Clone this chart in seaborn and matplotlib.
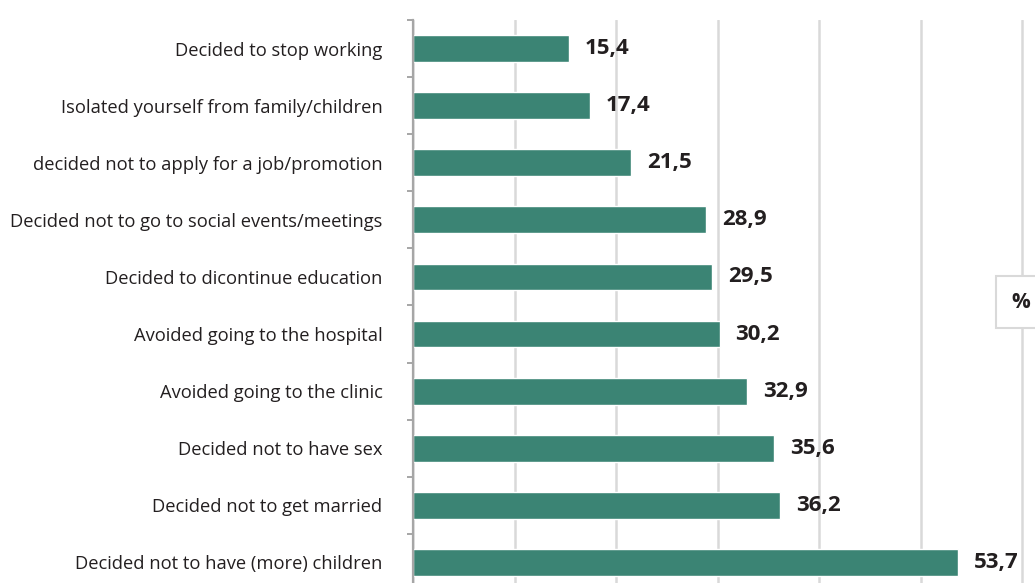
import numpy as np
import pandas as pd
import matplotlib
matplotlib.use("Agg")
import matplotlib.pyplot as plt
import seaborn as sns

# ── data ──────────────────────────────────────────────────────────────────────
categories = [
    "Decided to stop working",
    "Isolated yourself from family/children",
    "decided not to apply for a job/promotion",
    "Decided not to go to social events/meetings",
    "Decided to dicontinue education",
    "Avoided going to the hospital",
    "Avoided going to the clinic",
    "Decided not to have sex",
    "Decided not to get married",
    "Decided not to have (more) children",
]
values = [15.4, 17.4, 21.5, 28.9, 29.5, 30.2, 32.9, 35.6, 36.2, 53.7]
series_name = "%"

BAR_COLOR = "#3b8474"
TEXT_COLOR = "#231f20"

sns.set_theme(style="white")
plt.rcParams["font.family"] = ["Open Sans", "DejaVu Sans"]

df = pd.DataFrame({"item": categories, "pct": values})

fig = plt.figure(figsize=(10.35, 5.83), dpi=100)
ax = fig.add_axes([413 / 1035, -8 / 583, 62 * 10.15 / 1035, 571 / 583])

sns.barplot(data=df, y="item", x="pct", color=BAR_COLOR, width=0.47,
            saturation=1, ax=ax, zorder=3)

ax.set_xlim(0, 62)
ax.set_ylim(len(categories) - 0.5, -0.5)
ax.set_xticks([0, 10, 20, 30, 40, 50, 60])
ax.set_xticklabels([])
ax.tick_params(axis="x", length=0)
ax.grid(axis="x", color="#d9d9d9", lw=1.8, zorder=0)
ax.set_xlabel("")
ax.set_ylabel("")

for s in ["top", "right", "bottom"]:
    ax.spines[s].set_visible(False)
ax.spines["left"].set_color("#a6a6a6")
ax.spines["left"].set_linewidth(1.6)
ax.spines["left"].set_zorder(4)

ax.set_yticks(np.arange(-0.5, len(categories), 1.0), minor=True)
ax.tick_params(axis="y", which="minor", length=4, width=1.4, color="#a6a6a6", left=True)
ax.tick_params(axis="y", which="major", length=0, pad=22, labelsize=13.2, labelcolor=TEXT_COLOR)

for i, v in enumerate(values):
    ax.text(v + 1.55, i, f"{v:.1f}".replace(".", ","), va="center", ha="left",
            fontsize=16, fontweight="bold", color=TEXT_COLOR)

fig.text(1021 / 1035, 1 - 302 / 583, series_name, ha="center", va="center",
         fontsize=15, fontweight="bold", color=TEXT_COLOR,
         bbox=dict(boxstyle="square,pad=0.75", fc="white", ec="#d9d9d9", lw=1.5))

plt.savefig("out.png", dpi=100)
